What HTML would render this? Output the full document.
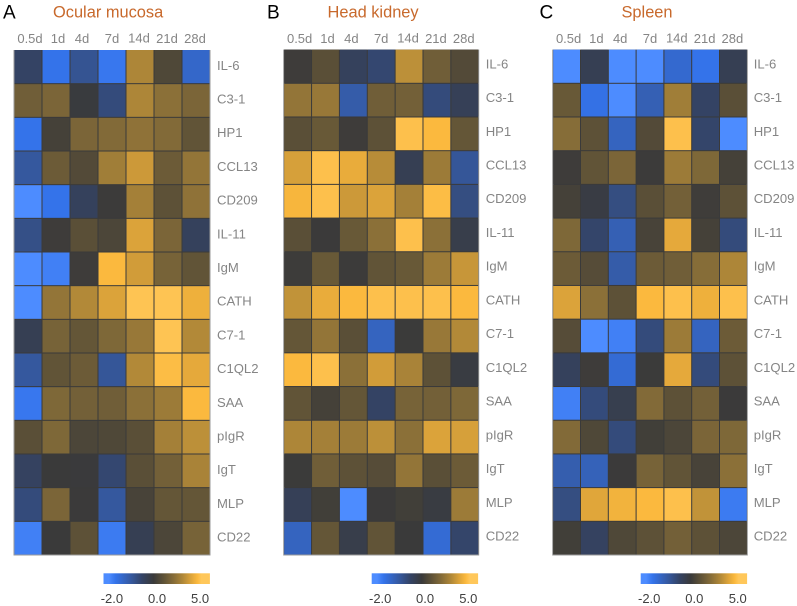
<!DOCTYPE html>
<html lang="en">
<head>
<meta charset="utf-8">
<title>Gene expression heatmaps</title>
<style>
html,body{margin:0;padding:0;background:#fff;}
svg{display:block;font-family:"Liberation Sans",Arial,sans-serif;}
</style>
</head>
<body>
<svg id="chart" xmlns="http://www.w3.org/2000/svg" width="797" height="606" viewBox="0 0 797 606">
<defs id="defs"></defs>
</svg>
<script>
const timepoints = ['0.5d','1d','4d','7d','14d','21d','28d'];
const genes = ['IL-6','C3-1','HP1','CCL13','CD209','IL-11','IgM','CATH','C7-1','C1QL2','SAA','pIgR','IgT','MLP','CD22'];
const legendTicks = ['-2.0','0.0','5.0'];

const ocularMucosa = [
  [-0.5,-1.7,-0.9,-1.75,3,0.6,-1.4],
  [1.5,1.8,-0.05,-0.7,3,2.2,1.8],
  [-1.7,0.3,1.8,2,2.3,2,1.1],
  [-1,1.4,0.7,2.7,3.6,1.4,2.4],
  [-2,-1.7,-0.4,0.05,2.8,1,2.3],
  [-0.8,0.1,0.9,0.5,3.9,1.8,-0.4],
  [-2,-1.85,0.1,4.6,3.7,1.7,1.1],
  [-2,2.4,3.1,3.9,4.9,4.9,4.3],
  [-0.3,1.7,1.2,1.9,2.5,4.9,3.1],
  [-1,1.1,1.4,-0.95,3.1,4.7,4.1],
  [-1.75,1.9,1.6,1.5,2.2,2.6,4.6],
  [0.9,1.9,0.5,0.6,0.9,2.8,3.3],
  [-0.45,0,-0.02,-0.6,0.9,1.6,2.9],
  [-0.7,1.8,0.02,-1,0.4,1.2,1.2],
  [-1.85,0,1,-1.8,-0.3,0.5,1.7]
];
const headKidney = [
  [0.1,0.9,-0.4,-0.6,3.3,1.5,0.7],
  [2.4,2.5,-1.1,1.5,1.6,-0.7,-0.35],
  [0.9,1.3,0.1,1,4.8,4.6,1.2],
  [3.8,4.8,4.2,3.2,-0.3,2.6,-0.95],
  [4.5,4.8,3.6,3.9,2.8,4.7,-0.75],
  [0.9,0.02,1.3,2.2,4.8,2.2,-0.2],
  [0.08,1.3,0.06,1.1,1.3,2.6,3.5],
  [3.4,4.2,4.6,4.8,4.8,4.8,4.6],
  [1.2,2.4,0.9,-1.3,0.04,2.5,3.1],
  [4.6,4.8,2.2,3.7,2.9,1,-0.1],
  [1.1,0.3,1.2,-0.5,1.7,1.6,1.9],
  [3,2.8,2.6,3.3,2.2,3.9,3.8],
  [0.03,1.5,1,0.8,2.4,0.9,1.4],
  [-0.35,0.2,-2,0.02,0.2,-0.1,2.6],
  [-1.3,1.2,-0.2,1.1,0,-1.5,-0.55]
];
const spleen = [
  [-2,-0.3,-2,-2,-1.45,-1.7,-0.3],
  [1.3,-1.65,-2,-1.2,2.7,-0.5,0.9],
  [2.1,1,-1.3,0.7,4.8,-0.55,-2],
  [0.1,1.1,1.8,0.05,2.6,1.9,0.3],
  [0.3,-0.12,-0.75,0.9,1.6,0.15,1],
  [1.9,-0.55,-1.2,0.4,4.1,0.3,-0.7],
  [1.4,0.8,-1.1,1.4,1.5,2.1,3],
  [3.9,2.2,1,4.6,4.8,4.3,4.8],
  [0.8,-2,-1.85,-0.7,2.6,-1.3,1.4],
  [-0.4,0.1,-1.5,0.03,4.1,-0.7,1],
  [-1.85,-0.7,-0.25,2,1,1.6,0.02],
  [2,0.6,-0.7,0.2,0.5,1.8,1.9],
  [-1.15,-1.25,0.02,1.7,1.1,0.4,2.2],
  [-0.75,4,4.4,4.6,4.8,3.4,-1.8],
  [0.2,-0.45,0.6,1,1.6,1,0.5]
];

const NS = 'http://www.w3.org/2000/svg';
const svg = document.getElementById('chart');
const defs = document.getElementById('defs');

const colorStops = [
  [-2,[77,140,255]],[-1.7,[52,115,234]],[-1,[53,88,158]],[-0.5,[52,67,100]],[0,[58,58,58]],
  [1,[93,81,55]],[2,[130,106,56]],[3,[173,134,56]],[4,[224,166,58]],[4.6,[251,185,62]],[5,[255,199,90]]
];
function colorFor(v){
  const c = Math.max(-2, Math.min(5, v));
  for (let i = 1; i < colorStops.length; i++){
    const a = colorStops[i-1], b = colorStops[i];
    if (c <= b[0]){
      const t = (c - a[0]) / (b[0] - a[0]);
      const m = a[1].map((q, k) => Math.round(q + (b[1][k] - q) * t));
      return 'rgb(' + m.join(',') + ')';
    }
  }
  return 'rgb(255,199,90)';
}
function legendOffset(v){
  return v <= 0 ? 0.05 + (v + 2) / 2 * 0.42 : 0.47 + v / 5 * 0.45;
}
function make(tag, attrs, text){
  const el = document.createElementNS(NS, tag);
  for (const k in attrs) el.setAttribute(k, attrs[k]);
  if (text !== undefined) el.textContent = text;
  return el;
}

const grad = make('linearGradient', {id:'legend-gradient', x1:0, x2:1, y1:0, y2:0});
colorStops.forEach(s => {
  grad.appendChild(make('stop', {offset: legendOffset(s[0]), 'stop-color': colorFor(s[0])}));
});
defs.appendChild(grad);

const panels = [
  {key:'ocular-mucosa', letter:'A', letterX:3, title:'Ocular mucosa', titleX:53, left:14, right:210, top:50, rowShift:-0.9, labelX:217, legendL:103.5, tickX:[100.7,148,191], data:ocularMucosa},
  {key:'head-kidney', letter:'B', letterX:267, title:'Head kidney', titleX:327.5, left:283.7, right:478.7, top:49.6, rowShift:-2, labelX:485.7, legendL:371.7, tickX:[369,416,459.3], data:headKidney},
  {key:'spleen', letter:'C', letterX:539.5, title:'Spleen', titleX:621.5, left:552.7, right:747.3, top:49.6, rowShift:-2, labelX:753.7, legendL:640.7, tickX:[638,685.3,728.7], data:spleen}
];
const bottom = 555;
const colNudge = [2,2,-2,0,-1,-1,-1];

panels.forEach(p => {
  const g = make('g', {});
  
  
  svg.appendChild(g);

  const letter = make('text', {x:p.letterX, y:18.3, 'font-size':19, fill:'#000'}, p.letter);
  
  
  g.appendChild(letter);

  const title = make('text', {x:p.titleX, y:17.6, 'font-size':16.4, fill:'#c8692c'}, p.title);
  
  
  g.appendChild(title);

  const xBand = (p.right - p.left) / timepoints.length;
  const yBand = (bottom - p.top) / genes.length;
  const xPos = i => p.left + i * xBand;
  const yPos = j => p.top + j * yBand;

  const frame = make('rect', {x:p.left - 0.5, y:p.top, width:p.right - p.left + 1, height:bottom - p.top + 0.5, fill:'#9a9a9a'});
  
  
  g.appendChild(frame);
  const backing = make('rect', {x:p.left + 0.5, y:p.top, width:p.right - p.left - 1, height:bottom - p.top - 0.5, fill:'#3a3a3a'});
  
  
  g.appendChild(backing);

  timepoints.forEach((t, i) => {
    const lab = make('text', {x:xPos(i) + xBand / 2 + colNudge[i], y:t === '14d' ? 42.4 : 43, 'font-size':13, fill:'#858585', 'text-anchor':'middle'}, t);
    
    
    g.appendChild(lab);
  });

  genes.forEach((gene, j) => {
    const lab = make('text', {x:p.labelX, y:yPos(j) + yBand / 2 + p.rowShift + 3.9 + j * 0.03, 'font-size':13.1, fill:'#858585'}, gene);
    
    
    g.appendChild(lab);
    timepoints.forEach((t, i) => {
      const cell = make('rect', {
        x:xPos(i) + 0.5,
        y:yPos(j) + (j === 0 ? 0 : 0.5),
        width:xBand - 1,
        height:yBand - (j === 0 ? 0.5 : 1),
        fill:colorFor(p.data[j][i])
      });
      
      
      g.appendChild(cell);
    });
  });

  const legendBg = make('rect', {x:p.legendL, y:573.3, width:106.4, height:10.7, fill:'url(#legend-gradient)'});
  
  
  g.appendChild(legendBg);

  legendTicks.forEach((t, i) => {
    const lab = make('text', {x:p.tickX[i], y:602.8, 'font-size':13, fill:'#404040'}, t);
    
    
    g.appendChild(lab);
  });
});
</script>
</body>
</html>
